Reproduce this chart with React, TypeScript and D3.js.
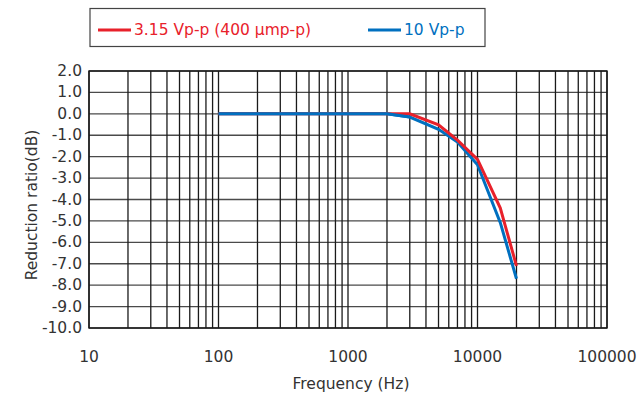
import * as d3 from "d3";
import { useEffect, useRef } from "react";

const freqs = [100, 2000, 3000, 5000, 7000, 10000, 15000, 20000];
const red315 = [0, 0, 0, -0.51, -1.23, -2.13, -4.4, -7.1];
const blue10 = [0, 0, -0.15, -0.72, -1.31, -2.38, -5.08, -7.7];
const yTicks = [2, 1, 0, -1, -2, -3, -4, -5, -6, -7, -8, -9, -10];
const xTicks = [10, 100, 1000, 10000, 100000];
const seriesNames = ["3.15 Vp-p (400 \u03bcmp-p)", "10 Vp-p"];
const seriesColors = ["#e8212b", "#0070c0"];

const App = () => {
  const svgRef = useRef<SVGSVGElement>(null);

  const renderSVG = () => {
    const dims = { width: 640, height: 394, left: 89, right: 607, top: 71, bottom: 328 };
    const font = "'DejaVu Sans', sans-serif";
    const fs = 15.5;

    const x = d3.scaleLog().domain([10, 100000]).range([dims.left, dims.right]);
    const y = d3.scaleLinear().domain([-10, 2]).range([dims.bottom, dims.top]);

    svgRef.current!.innerHTML = "";
    const svg = d3
      .select(svgRef.current)
      .attr("width", dims.width)
      .attr("height", dims.height)
      .style("position", "absolute")
      .style("left", 0)
      .style("top", 0);

    svg.append("rect").attr("width", dims.width).attr("height", dims.height).attr("fill", "#fff");

    // grid
    const minor: number[] = [];
    for (let dec = 10; dec < 100000; dec *= 10) {
      for (let m = 1; m < 10; m++) minor.push(dec * m);
    }
    minor.push(100000);

    svg
      .append("g")
      .selectAll("line")
      .data(yTicks)
      .enter()
      .append("line")
      .attr("x1", dims.left)
      .attr("x2", dims.right)
      .attr("y1", (d) => y(d))
      .attr("y2", (d) => y(d))
      .attr("stroke", "#4a4a4a")
      .attr("stroke-width", 1.4);

    svg
      .append("g")
      .selectAll("line")
      .data(minor)
      .enter()
      .append("line")
      .attr("x1", (d) => x(d))
      .attr("x2", (d) => x(d))
      .attr("y1", dims.top)
      .attr("y2", dims.bottom)
      .attr("stroke", "#1a1a1a")
      .attr("stroke-width", 1.3);

    svg
      .append("rect")
      .attr("x", dims.left)
      .attr("y", dims.top)
      .attr("width", dims.right - dims.left)
      .attr("height", dims.bottom - dims.top)
      .attr("fill", "none")
      .attr("stroke", "#1a1a1a")
      .attr("stroke-width", 1.4);

    // tick labels
    svg
      .append("g")
      .selectAll("text")
      .data(yTicks)
      .enter()
      .append("text")
      .attr("x", dims.left - 7)
      .attr("y", (d) => y(d))
      .attr("text-anchor", "end")
      .attr("dominant-baseline", "central")
      .attr("font-size", fs)
      .attr("font-family", font)
      .attr("fill", "#333")
      .text((d) => d.toFixed(1));

    svg
      .append("g")
      .selectAll("text")
      .data(xTicks)
      .enter()
      .append("text")
      .attr("x", (d) => x(d))
      .attr("y", 357)
      .attr("text-anchor", "middle")
      .attr("dominant-baseline", "central")
      .attr("font-size", fs)
      .attr("font-family", font)
      .attr("fill", "#333")
      .text((d) => String(d));

    svg
      .append("text")
      .attr("x", 351)
      .attr("y", 384)
      .attr("text-anchor", "middle")
      .attr("dominant-baseline", "central")
      .attr("font-size", fs)
      .attr("font-family", font)
      .attr("fill", "#333")
      .text("Frequency (Hz)");

    svg
      .append("text")
      .attr("transform", `translate(32, 205) rotate(-90)`)
      .attr("text-anchor", "middle")
      .attr("dominant-baseline", "central")
      .attr("font-size", fs)
      .attr("font-family", font)
      .attr("fill", "#333")
      .text("Reduction ratio(dB)");

    // lines
    const line = d3
      .line<number>()
      .x((d, i) => x(freqs[i]))
      .y((d) => y(d));

    [blue10, red315].forEach((vals) => {
      const idx = vals === red315 ? 0 : 1;
      svg
        .append("path")
        .datum(vals)
        .attr("d", line)
        .attr("fill", "none")
        .attr("stroke", seriesColors[idx])
        .attr("stroke-width", 3)
        .attr("stroke-linejoin", "miter");
    });
    // blue drawn over red on the flat part
    svg
      .append("path")
      .datum(blue10.slice(0, 3))
      .attr("d", line)
      .attr("fill", "none")
      .attr("stroke", seriesColors[1])
      .attr("stroke-width", 3);

    // legend
    const lg = svg.append("g");
    lg.append("rect")
      .attr("x", 90)
      .attr("y", 8.5)
      .attr("width", 395)
      .attr("height", 38)
      .attr("fill", "#fff")
      .attr("stroke", "#444")
      .attr("stroke-width", 1.2);
    const legendX = [98, 368];
    seriesNames.forEach((name, i) => {
      lg.append("line")
        .attr("x1", legendX[i])
        .attr("x2", legendX[i] + 33)
        .attr("y1", 30)
        .attr("y2", 30)
        .attr("stroke", seriesColors[i])
        .attr("stroke-width", 3);
      lg.append("text")
        .attr("x", legendX[i] + 36)
        .attr("y", 29.5)
        .attr("dominant-baseline", "central")
        .attr("font-size", fs)
        .attr("font-family", font)
        .attr("fill", seriesColors[i])
        .text(name);
    });
  };

  useEffect(() => {
    renderSVG();
  });

  return <svg ref={svgRef} />;
};

export default App;
